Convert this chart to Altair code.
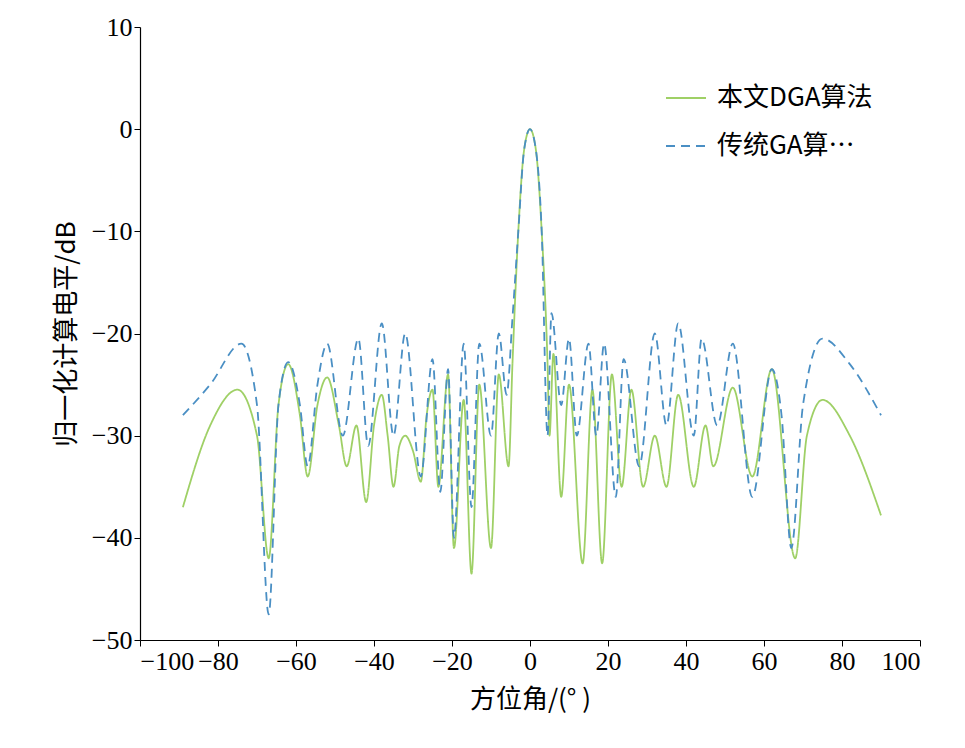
import altair as alt
import pandas as pd

# DGA (green, solid) – peaks and nulls
dga_x = [-89, -82, -75, -70, -67, -64.5, -62, -59, -57, -54.5, -52, -49, -47, -44.5, -42, -40, -38, -36.5, -35, -33.5, -32, -30, -28, -26.5, -25, -23.5,
         -21, -19.5, -17, -15, -13, -10, -8, -5.5, -4.5, -3, -1.5, 0, 1.5, 3, 4.5, 5, 6, 8, 10, 13.5, 16, 18.5, 21, 23.5, 26, 29, 32, 35, 38, 42,
         45, 47, 52, 57, 62, 68, 71, 75, 82, 90]
dga_y = [-37, -29, -25.5, -30, -42, -27, -23, -28, -34, -27, -24.3, -29, -33, -29, -36.5, -29, -26, -30, -35, -31, -30, -31.5, -34.5, -28, -25.5, -35,
         -24, -41, -26.5, -43.5, -25, -41, -24, -33, -23, -10, -2, 0, -2, -10, -23, -30, -22, -36, -25, -42.5, -25.5, -42.5, -24, -35, -25.5, -35,
         -30, -35, -26, -35, -29, -33, -25.3, -34, -23.5, -42, -30, -26.5, -30, -37.8]

# Traditional GA (blue, dashed)
ga_x = [-89, -82, -74, -70, -67, -64.5, -62, -59, -57, -54.5, -52, -48, -44, -41.5, -38, -35, -32, -28, -25, -23, -21, -19.5, -17, -15, -13,
        -10, -8, -6, -4.5, -3, -1.5, 0, 1.5, 3, 4.5, 5.5, 8, 10, 12, 15, 17, 19, 22, 24, 28, 32, 35, 38, 42, 44, 48, 52, 57, 62, 64.5, 67, 70,
        75, 82, 90]
ga_y = [-28, -25, -21, -27, -47.5, -27, -22.8, -27, -33, -25, -21, -30, -20.5, -31, -19, -30, -20, -34, -22.5, -35.5, -23.5, -40, -21, -37, -21,
        -30, -20, -26, -18.5, -10, -2, 0, -2, -10, -30, -18, -27, -20.5, -30, -21, -30, -21, -36, -22.5, -33, -20, -29, -19, -30, -20.5, -29, -21,
        -36, -23.5, -28, -41, -27, -20.5, -23, -28]

labels = ["本文DGA算法", "传统GA算法[7]"]

df = pd.concat([
    pd.DataFrame({"angle": dga_x, "level": dga_y, "series": labels[0]}),
    pd.DataFrame({"angle": ga_x, "level": ga_y, "series": labels[1]}),
])

serif = "Liberation Serif"
cjk = "Noto Sans CJK SC"

chart = (
    alt.Chart(df)
    .mark_line(interpolate="monotone", strokeWidth=1.8)
    .encode(
        x=alt.X("angle:Q", scale=alt.Scale(domain=[-100, 100], nice=False),
                axis=alt.Axis(values=list(range(-100, 101, 20)), title="方位角/(°  )",
                              labelExpr="replace(datum.label, '-', '−')")),
        y=alt.Y("level:Q", scale=alt.Scale(domain=[-50, 10], nice=False),
                axis=alt.Axis(values=list(range(-50, 11, 10)), title="归一化计算电平/dB",
                              labelExpr="replace(datum.label, '-', '−')")),
        color=alt.Color("series:N", scale=alt.Scale(domain=labels, range=["#9fd066", "#4a8fc4"]),
                        legend=alt.Legend(title=None, orient="none", legendX=525, legendY=50,
                                          symbolType="stroke", symbolSize=1600, symbolStrokeWidth=2,
                                          labelFont=cjk, labelFontSize=26, rowPadding=14, labelOffset=10)),
        strokeDash=alt.StrokeDash("series:N", scale=alt.Scale(domain=labels, range=[[1, 0], [9, 6]]),
                                  legend=None),
        detail="series:N",
    )
    .properties(width=780, height=613, autosize="none",
                padding={"left": 132, "top": 19, "right": 37, "bottom": 108})
    .configure_view(stroke=None)
    .configure_axis(grid=False, domainColor="black", tickColor="black", labelColor="black",
                    labelFont=serif, labelFontSize=26, titleFont=cjk, titleFontSize=26,
                    titleColor="black", titleFontWeight="normal", tickSize=6, domainWidth=1.2)
    .configure_axisX(titlePadding=12)
    .configure_axisY(titlePadding=12)
)

chart.save("out.html", embed_options={"renderer": "svg", "actions": False})
